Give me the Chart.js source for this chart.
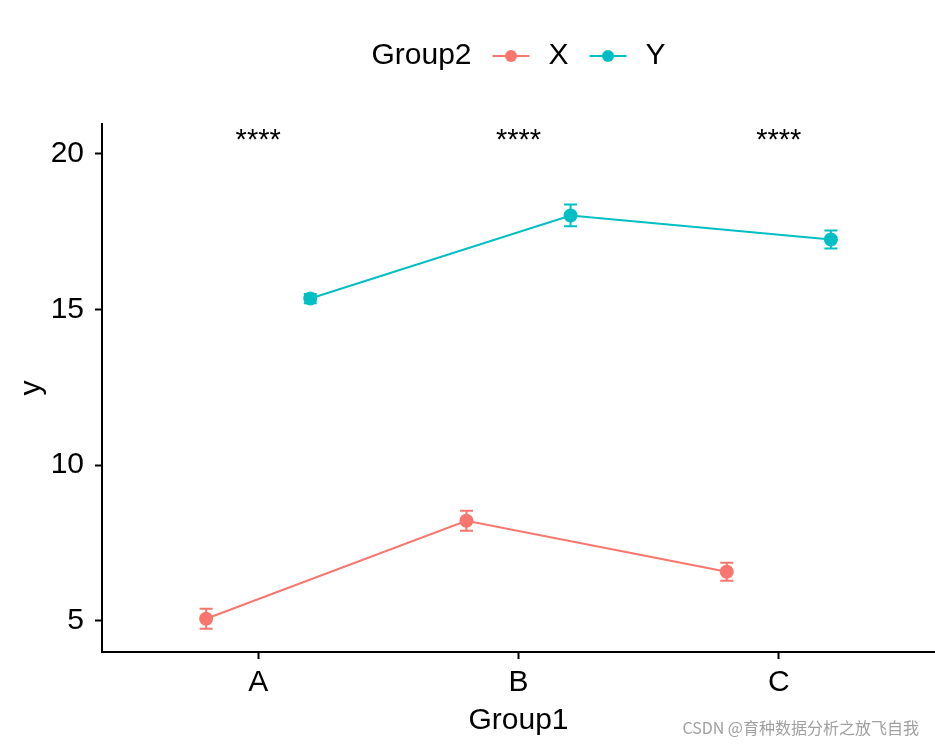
<!DOCTYPE html>
<html>
<head>
<meta charset="utf-8">
<script src="https://cdn.jsdelivr.net/npm/chart.js@4.4.0/dist/chart.umd.min.js"></script>
<style>
body { margin: 0; background: #fff; }
#wrap { position: relative; width: 935px; height: 745px; }
#mark { position: absolute; right: 16px; bottom: 6px; font: 16px "Noto Sans CJK SC", sans-serif; color: #a0a0a0; }
</style>
</head>
<body>
<div id="wrap">
  <canvas id="myChart" width="935" height="745"></canvas>
  <div id="mark">CSDN @育种数据分析之放飞自我</div>
</div>
<script>
let categories = ['A', 'B', 'C'];
let groups = ['X', 'Y'];
let xMeans = [5.06, 8.21, 6.57];
let xErr = [0.32, 0.32, 0.29];
let yMeans = [15.35, 18.02, 17.25];
let yErr = [0.15, 0.35, 0.29];
let sigLabels = ['****', '****', '****'];
let sigY = 20.6;
let yTicks = [5, 10, 15, 20];
let colors = ['#F8766D', '#00BFC4'];
let dodge = 0.2;

let font = '"Liberation Sans", Arial, sans-serif';
Chart.defaults.color = '#000';
Chart.defaults.font.family = font;

function points(means, errs, shift) {
    return means.map((m, i) => ({ x: i + shift, y: m, err: errs[i] }));
}

// error bars, star labels and the ggplot-style legend
let extras = {
    id: 'extras',
    beforeDatasetsDraw(chart) {
        let { ctx, scales: { x, y } } = chart;
        chart.data.datasets.forEach(ds => {
            ctx.save();
            ctx.strokeStyle = ds.borderColor;
            ctx.lineWidth = 2;
            ds.data.forEach(p => {
                let px = x.getPixelForValue(p.x);
                let t = y.getPixelForValue(p.y + p.err);
                let b = y.getPixelForValue(p.y - p.err);
                ctx.beginPath();
                ctx.moveTo(px, t); ctx.lineTo(px, b);
                ctx.moveTo(px - 6.5, t); ctx.lineTo(px + 6.5, t);
                ctx.moveTo(px - 6.5, b); ctx.lineTo(px + 6.5, b);
                ctx.stroke();
            });
            ctx.restore();
        });
    },
    afterDraw(chart) {
        let { ctx, scales: { x, y }, chartArea } = chart;
        ctx.save();
        ctx.fillStyle = '#000';
        ctx.font = '29px ' + font;
        ctx.textAlign = 'center';
        ctx.textBaseline = 'middle';
        sigLabels.forEach((s, i) => {
            ctx.fillText(s, x.getPixelForValue(i), y.getPixelForValue(sigY) + 6);
        });

        // legend
        ctx.font = '30px ' + font;
        ctx.textAlign = 'left';
        let title = 'Group2';
        let gap = 21, key = 37, keyGap = 19;
        let total = ctx.measureText(title).width;
        chart.data.datasets.forEach(ds => {
            total += gap + key + keyGap + ctx.measureText(ds.label).width;
        });
        let cx = (chartArea.left + chartArea.right) / 2 - total / 2;
        let cy = 56;
        ctx.fillText(title, cx, cy);
        cx += ctx.measureText(title).width;
        chart.data.datasets.forEach(ds => {
            cx += gap;
            ctx.strokeStyle = ds.borderColor;
            ctx.fillStyle = ds.borderColor;
            ctx.lineWidth = 2;
            ctx.beginPath();
            ctx.moveTo(cx, cy); ctx.lineTo(cx + key, cy);
            ctx.stroke();
            ctx.beginPath();
            ctx.arc(cx + key / 2, cy, 6, 0, Math.PI * 2);
            ctx.fill();
            cx += key + keyGap;
            ctx.fillStyle = '#000';
            ctx.fillText(ds.label, cx, cy);
            cx += ctx.measureText(ds.label).width;
        });
        ctx.restore();
    }
};

let ctx = document.getElementById('myChart').getContext('2d');

let myChart = new Chart(ctx, {
    type: 'line',
    data: {
        datasets: [{
            label: groups[0],
            data: points(xMeans, xErr, -dodge),
            borderColor: colors[0],
            backgroundColor: colors[0],
            borderWidth: 2,
            pointRadius: 6,
            pointHoverRadius: 6,
            tension: 0
        }, {
            label: groups[1],
            data: points(yMeans, yErr, dodge),
            borderColor: colors[1],
            backgroundColor: colors[1],
            borderWidth: 2,
            pointRadius: 6,
            pointHoverRadius: 6,
            tension: 0
        }]
    },
    options: {
        responsive: false,
        animation: false,
        devicePixelRatio: 1,
        layout: { autoPadding: false, padding: { top: 124, right: 0, left: 0, bottom: 0 } },
        plugins: {
            legend: { display: false },
            tooltip: { enabled: false }
        },
        scales: {
            x: {
                type: 'linear',
                min: -0.6,
                max: 2.6,
                afterBuildTicks: s => { s.ticks = categories.map((c, i) => ({ value: i })); },
                afterFit: s => { s.height = 93; s.paddingLeft = 0; s.paddingRight = 0; },
                ticks: {
                    callback: v => categories[v],
                    font: { size: 30 },
                    padding: 6,
                    maxRotation: 0
                },
                grid: { drawOnChartArea: false, tickLength: 7, tickColor: '#000', tickWidth: 2 },
                border: { color: '#000', width: 2 },
                title: { display: true, text: 'Group1', font: { size: 30 }, padding: { top: 0, bottom: 6 } }
            },
            y: {
                min: 3.99,
                max: 20.96,
                afterBuildTicks: s => { s.ticks = yTicks.map(v => ({ value: v })); },
                afterFit: s => { s.width = 102; s.paddingTop = 0; s.paddingBottom = 0; },
                ticks: { font: { size: 30 }, padding: 11 },
                grid: { drawOnChartArea: false, tickLength: 7, tickColor: '#000', tickWidth: 2 },
                border: { color: '#000', width: 2 },
                title: { display: true, text: 'y', font: { size: 30 }, padding: { top: 14, bottom: 0 } }
            }
        }
    },
    plugins: [extras]
});
</script>
</body>
</html>
